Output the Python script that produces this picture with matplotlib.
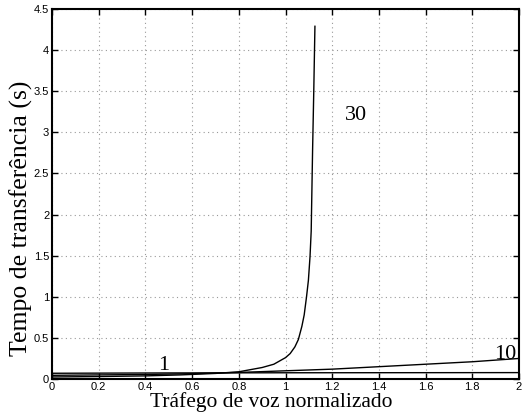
import matplotlib
matplotlib.use("Agg")
import matplotlib.pyplot as plt
from matplotlib.ticker import FuncFormatter

# curve "30"
x30 = [0.0, 0.2, 0.4, 0.55, 0.7, 0.8, 0.9, 0.95, 0.975, 1.0, 1.02, 1.04,
       1.055, 1.07, 1.08, 1.09, 1.098, 1.105, 1.11, 1.116, 1.121, 1.126]
y30 = [0.025, 0.03, 0.038, 0.05, 0.068, 0.088, 0.14, 0.18, 0.22, 0.26, 0.31,
       0.39, 0.48, 0.64, 0.78, 1.0, 1.2, 1.49, 1.8, 2.79, 3.5, 4.29]

# curve "10"
x10 = [0.0, 0.2, 0.4, 0.6, 0.8, 1.0, 1.2, 1.4, 1.6, 1.8, 2.0]
y10 = [0.045, 0.05, 0.055, 0.065, 0.08, 0.10, 0.12, 0.15, 0.18, 0.21, 0.25]

# curve "1"
x1 = [0.0, 0.5, 1.0, 1.5, 2.0]
y1 = [0.07, 0.074, 0.076, 0.077, 0.078]

labels = ['1', '10', '30']
label_pos = [(0.48, 0.17), (1.94, 0.30), (1.30, 3.21)]

xticks = [0, 0.2, 0.4, 0.6, 0.8, 1, 1.2, 1.4, 1.6, 1.8, 2]
yticks = [0, 0.5, 1, 1.5, 2, 2.5, 3, 3.5, 4, 4.5]

fig = plt.figure(figsize=(5.26, 4.15), dpi=100)
ax = fig.add_axes([0.0989, 0.0867, 0.8878, 0.8916])

ax.plot(x30, y30, color='black', linewidth=1.0)
ax.plot(x10, y10, color='black', linewidth=1.0)
ax.plot(x1, y1, color='black', linewidth=1.0)

for lab, (lx, ly) in zip(labels, label_pos):
    ax.text(lx, ly, lab, family='Liberation Serif', fontsize=16,
            ha='center', va='center')

ax.set_xlim(0, 2)
ax.set_ylim(0, 4.5)
ax.set_xticks(xticks)
ax.set_yticks(yticks)
fmt = FuncFormatter(lambda v, p: '%g' % v)
ax.xaxis.set_major_formatter(fmt)
ax.yaxis.set_major_formatter(fmt)
ax.tick_params(direction='in', top=True, right=True, length=4, width=1,
               labelsize=8, pad=2)
for t in ax.get_xticklabels() + ax.get_yticklabels():
    t.set_family('Liberation Sans')
for s in ax.spines.values():
    s.set_linewidth(1.5)

ax.grid(True, linestyle=(0, (1, 3)), color='#999999', linewidth=0.8)

ax.set_xlabel('Tráfego de voz normalizado', family='Liberation Serif',
              fontsize=15.5)
ax.xaxis.set_label_coords(0.47, -0.035, transform=ax.transAxes)
ax.xaxis.label.set_va('top')
ax.set_ylabel('Tempo de transferência (s)', family='Liberation Serif',
              fontsize=18.5)
ax.yaxis.set_label_coords(-0.041, 0.435)

plt.savefig('out.png', dpi=100)
